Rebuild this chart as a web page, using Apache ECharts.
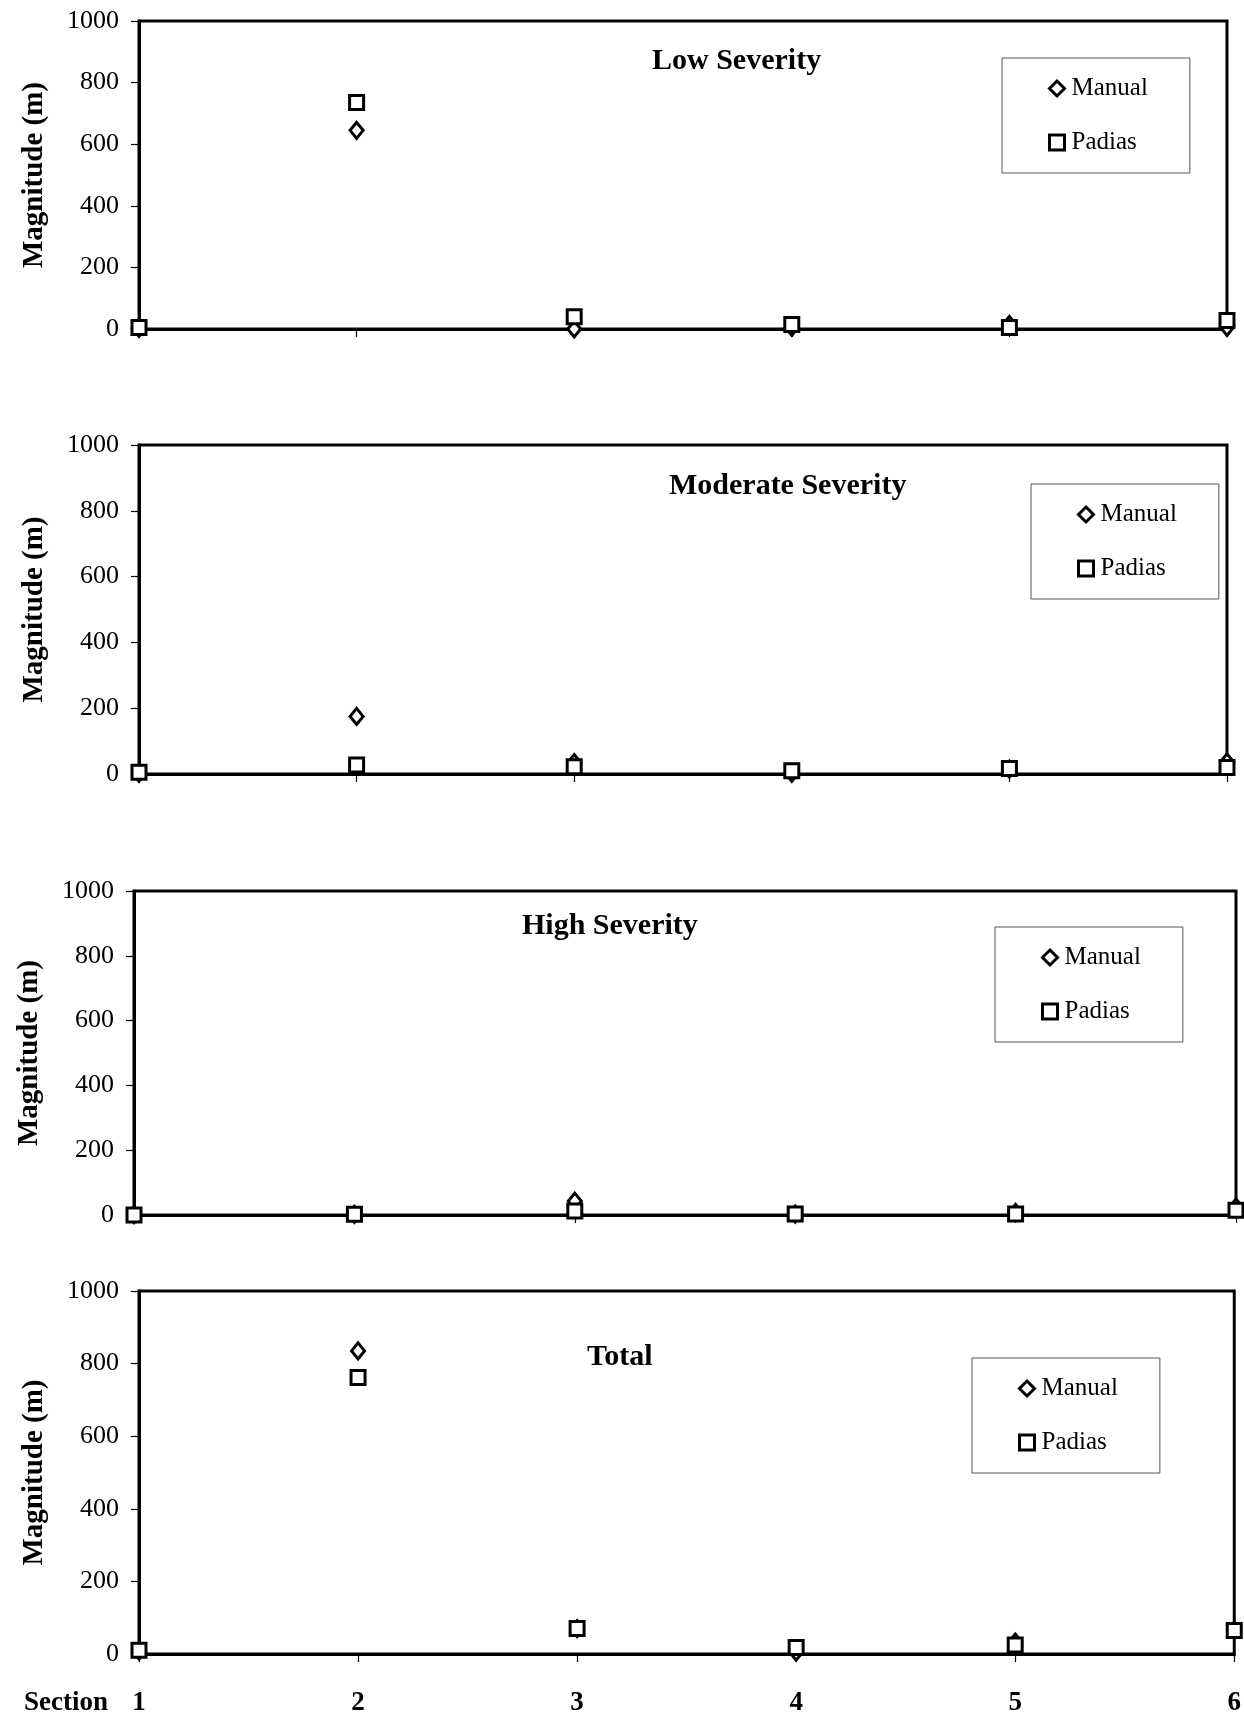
<!DOCTYPE html>
<html>
<head>
<meta charset="utf-8">
<script src="https://cdn.jsdelivr.net/npm/echarts@6/dist/echarts.min.js"></script>
<style>
html,body{margin:0;padding:0;background:#fff;}
#chart{width:1244px;height:1720px;}
</style>
</head>
<body>
<div id="chart"></div>
<script>
const sections = ['1', '2', '3', '4', '5', '6'];
const yTicks = [0, 200, 400, 600, 800, 1000];
const panelTitles = ['Low Severity', 'Moderate Severity', 'High Severity', 'Total'];
const seriesNames = ['Manual', 'Padias'];

const lowManual = [2, 645, 0, 5, 15, 5];
const lowPadias = [5, 735, 40, 15, 5, 28];
const modManual = [2, 175, 35, 2, 15, 37];
const modPadias = [5, 27, 22, 10, 17, 20];
const highManual = [1, 2, 43, 3, 8, 25];
const highPadias = [0, 2, 12, 3, 3, 15];
const totManual = [8, 835, 70, 5, 33, 65];
const totPadias = [10, 762, 70, 18, 25, 65];

const manualData = [lowManual, modManual, highManual, totManual];
const padiasData = [lowPadias, modPadias, highPadias, totPadias];

const FONT = '"Liberation Serif", "Times New Roman", serif';

// layout (pixels)
const grids = [
  {left: 139, top: 21, width: 1088, height: 308},
  {left: 139, top: 445, width: 1088, height: 329},
  {left: 134, top: 891, width: 1102, height: 324},
  {left: 139, top: 1291, width: 1099, height: 363}
];
const titlePos = [
  {left: 652, top: 46},
  {left: 669, top: 471},
  {left: 522, top: 911},
  {left: 587, top: 1342}
];
const legendPos = [
  {left: 1002, top: 58},
  {left: 1031, top: 484},
  {left: 995, top: 927},
  {left: 972, top: 1358}
];

const option = {
  backgroundColor: '#fff',
  animation: false,
  grid: grids.map(g => Object.assign({show: true, borderColor: '#000', borderWidth: 3, backgroundColor: 'transparent'}, g)),
  title: panelTitles.map((t, i) => ({
    text: t,
    left: titlePos[i].left,
    top: titlePos[i].top,
    padding: 0,
    textStyle: {fontFamily: FONT, fontWeight: 'bold', fontSize: 30, color: '#000'}
  })),
  legend: legendPos.map((p, i) => ({
    left: p.left,
    top: p.top,
    orient: 'vertical',
    itemGap: 29,
    itemWidth: 15,
    itemHeight: 15,
    padding: [18, 42, 18, 46],
    borderColor: '#555',
    borderWidth: 1,
    data: [{name: 'Manual', icon: 'diamond'}, {name: 'Padias', icon: 'rect'}],
    itemStyle: {color: '#fff', borderColor: '#000', borderWidth: 3},
    textStyle: {fontFamily: FONT, fontSize: 25, color: '#000', padding: [0, 0, 0, 2]},
    selectedMode: false
  })),
  xAxis: grids.map((g, i) => ({
    type: 'category',
    gridIndex: i,
    data: sections,
    boundaryGap: false,
    axisLine: {show: true, lineStyle: {color: '#000', width: 3}},
    axisTick: {show: true, length: 8, lineStyle: {color: '#000', width: 1.2}},
    axisLabel: {
      show: i === 3,
      margin: 36,
      fontFamily: FONT, fontWeight: 'bold', fontSize: 27, color: '#000'
    },
    splitLine: {show: false}
  })),
  yAxis: grids.map((g, i) => ({
    type: 'value',
    gridIndex: i,
    min: 0, max: 1000, interval: 200,
    name: 'Magnitude (m)',
    nameLocation: 'middle',
    nameGap: 90,
    nameRotate: 90,
    nameTextStyle: {fontFamily: FONT, fontWeight: 'bold', fontSize: 29, color: '#000'},
    axisLine: {show: true, lineStyle: {color: '#000', width: 3}},
    axisTick: {show: true, length: 8, lineStyle: {color: '#000', width: 1.2}},
    axisLabel: {margin: 20, fontFamily: FONT, fontSize: 26, color: '#000', formatter: v => String(v)},
    splitLine: {show: false}
  })),
  graphic: [{
    type: 'text',
    left: 24,
    top: 1690,
    style: {text: 'Section', font: 'bold 27px ' + FONT, fill: '#000'}
  }],
  series: []
};

for (let i = 0; i < 4; i++) {
  option.series.push({
    name: 'Manual',
    type: 'scatter',
    xAxisIndex: i, yAxisIndex: i,
    symbol: 'diamond',
    symbolSize: [13, 16],
    clip: false,
    z: 2,
    itemStyle: {color: '#fff', borderColor: '#000', borderWidth: 3, opacity: 1},
    data: manualData[i]
  });
  option.series.push({
    name: 'Padias',
    type: 'scatter',
    xAxisIndex: i, yAxisIndex: i,
    symbol: 'rect',
    symbolSize: 14,
    clip: false,
    z: 3,
    itemStyle: {color: '#fff', borderColor: '#000', borderWidth: 3, opacity: 1},
    data: padiasData[i]
  });
}

const chart = echarts.init(document.getElementById('chart'), null, {renderer: 'canvas'});
chart.setOption(option);
</script>
</body>
</html>
